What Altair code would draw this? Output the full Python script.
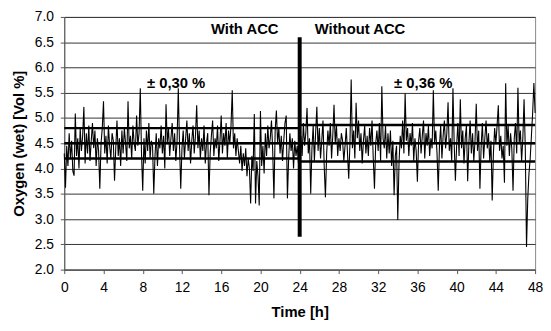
import altair as alt
import pandas as pd

# Oxygen readings, 8 per hour (step 0.125 h), rows = hours 0..47, plus final value at 48 h
hours_rows = [
    [4.30, 3.62, 4.45, 4.05, 4.70, 4.20, 4.55, 3.95],
    [3.86, 5.09, 4.25, 4.60, 4.00, 4.80, 4.35, 4.65],
    [5.22, 4.10, 4.70, 4.30, 4.85, 4.15, 4.55, 4.90],
    [4.40, 4.75, 4.05, 4.60, 4.35, 3.60, 4.50, 4.80],
    [5.33, 4.30, 4.65, 4.10, 4.85, 4.45, 4.20, 4.70],
    [4.55, 3.76, 4.40, 4.95, 4.25, 4.60, 4.05, 4.75],
    [4.30, 4.80, 4.50, 4.15, 5.33, 4.40, 4.65, 4.20],
    [4.85, 4.50, 4.35, 5.05, 4.45, 4.70, 5.59, 4.30],
    [3.56, 4.60, 4.10, 4.75, 4.35, 4.90, 4.20, 4.55],
    [4.45, 3.50, 4.25, 4.70, 4.05, 4.60, 4.40, 4.85],
    [4.30, 4.65, 4.00, 5.27, 4.50, 4.80, 4.25, 4.60],
    [4.90, 4.35, 4.70, 4.15, 4.55, 5.59, 4.45, 3.60],
    [4.40, 4.75, 4.20, 4.60, 4.95, 4.35, 4.70, 4.10],
    [4.55, 4.85, 4.30, 4.65, 5.25, 4.40, 4.75, 4.20],
    [4.60, 4.35, 4.85, 4.10, 4.50, 4.70, 3.47, 4.30],
    [4.65, 4.95, 4.25, 4.60, 4.40, 4.85, 4.15, 4.55],
    [5.05, 4.30, 4.70, 4.45, 4.90, 4.20, 4.75, 4.50],
    [4.85, 5.55, 4.40, 4.70, 4.25, 4.60, 4.35, 4.10],
    [4.45, 3.95, 4.30, 4.05, 4.40, 3.85, 4.20, 4.00],
    [3.31, 4.25, 3.95, 5.08, 3.31, 4.15, 3.85, 3.27],
    [5.14, 4.05, 4.45, 3.90, 4.70, 4.25, 4.85, 4.40],
    [4.60, 4.95, 4.35, 3.41, 4.75, 5.15, 4.50, 4.80],
    [4.30, 4.65, 4.15, 4.55, 4.90, 5.05, 3.41, 4.20],
    [4.70, 4.35, 4.60, 4.00, 4.55, 4.25, 4.45, 4.10],
    [4.00, 4.65, 4.25, 4.90, 4.45, 4.70, 5.20, 4.30],
    [4.60, 3.50, 4.40, 4.85, 4.15, 4.70, 5.22, 4.35],
    [4.80, 4.20, 4.55, 4.95, 4.05, 3.43, 4.30, 4.75],
    [4.45, 4.90, 4.20, 4.65, 5.26, 4.50, 4.85, 4.25],
    [4.60, 4.35, 4.70, 4.55, 4.15, 4.45, 4.80, 4.30],
    [3.80, 4.50, 5.76, 4.40, 4.75, 4.20, 5.30, 4.60],
    [4.95, 4.35, 4.70, 4.10, 4.55, 4.85, 4.30, 4.65],
    [4.25, 4.80, 4.45, 4.95, 4.20, 3.60, 4.50, 4.75],
    [4.35, 4.90, 4.15, 5.63, 4.60, 4.40, 4.85, 4.20],
    [4.70, 4.30, 4.75, 4.05, 4.55, 3.47, 4.25, 4.45],
    [2.98, 4.10, 4.65, 4.40, 4.95, 4.30, 5.49, 4.55],
    [4.80, 4.25, 4.70, 4.45, 4.90, 4.15, 4.60, 4.35],
    [3.74, 4.55, 4.80, 4.30, 4.65, 4.95, 4.20, 4.70],
    [4.45, 4.85, 4.25, 4.60, 4.40, 5.55, 4.50, 4.75],
    [4.30, 3.56, 4.45, 4.85, 4.20, 4.65, 4.95, 4.40],
    [4.70, 5.31, 4.35, 4.60, 4.15, 5.59, 4.50, 3.76],
    [4.45, 4.90, 4.25, 5.37, 4.40, 4.75, 4.10, 4.60],
    [4.85, 3.75, 4.50, 4.95, 4.30, 4.70, 4.15, 4.55],
    [5.28, 4.35, 4.75, 3.60, 4.45, 4.90, 4.20, 4.60],
    [4.95, 4.40, 4.70, 4.15, 4.55, 3.37, 4.30, 4.80],
    [4.50, 4.85, 5.25, 4.35, 4.65, 4.20, 4.45, 3.72],
    [5.69, 4.45, 4.85, 4.25, 4.70, 4.40, 3.56, 4.60],
    [4.90, 4.30, 5.60, 4.50, 4.75, 4.15, 4.60, 5.37],
    [4.40, 2.45, 3.40, 3.90, 4.20, 4.65, 5.10, 5.69],
]
final_value = 5.10

oxygen = [v for row in hours_rows for v in row] + [final_value]
times = [i * 0.125 for i in range(len(oxygen))]
series = pd.DataFrame({"t": times, "o2": oxygen})

# mean and +/- std lines per period
band_start = [0, 0, 0, 24, 24, 24]
band_end = [24, 24, 24, 48, 48, 48]
band_level = [4.20, 4.50, 4.80, 4.14, 4.50, 4.86]
bands = pd.DataFrame({"x": band_start, "x2": band_end, "y": band_level})

divider = pd.DataFrame({"x": [24], "y": [2.65], "y2": [6.6]})

label_text = ["With ACC", "Without ACC", "± 0,30 %", "± 0,36 %"]
label_x = [18.4, 30.15, 11.4, 36.6]
label_y = [6.76, 6.76, 5.69, 5.69]
labels = pd.DataFrame({"text": label_text, "x": label_x, "y": label_y})

y_ticks = [2.0, 2.5, 3.0, 3.5, 4.0, 4.5, 5.0, 5.5, 6.0, 6.5, 7.0]
x_ticks = list(range(0, 49, 4))

xs = alt.Scale(domain=[0, 48], nice=False, zero=False)
ys = alt.Scale(domain=[2, 7], nice=False, zero=False)

x_axis = alt.Axis(values=x_ticks, title="Time [h]", grid=False, format="d",
                  labelOverlap=False, labelFlush=False,
                  labelFontSize=14, labelFont="Liberation Sans", labelColor="black",
                  labelPadding=7, tickSize=4, tickColor="#555", domainColor="#555",
                  titleFont="Liberation Sans", titleFontSize=15, titleFontWeight="bold",
                  titleColor="black", titlePadding=10)
y_axis = alt.Axis(values=y_ticks, format=".1f", title="Oxygen (wet) [Vol %]",
                  labelOverlap=False, labelFlush=False,
                  grid=True, gridColor="#333", gridWidth=1,
                  labelFontSize=14, labelFont="Liberation Sans", labelColor="black",
                  labelPadding=7, tickSize=4, tickColor="#555", domainColor="#555",
                  titleFont="Liberation Sans", titleFontSize=15, titleFontWeight="bold",
                  titleColor="black", titlePadding=8)

line = alt.Chart(series).mark_line(color="black", strokeWidth=1.1).encode(
    x=alt.X("t:Q", scale=xs, axis=x_axis),
    y=alt.Y("o2:Q", scale=ys, axis=y_axis),
)

band_rules = alt.Chart(bands).mark_rule(color="black", strokeWidth=2.5).encode(
    x=alt.X("x:Q", scale=xs, axis=x_axis), x2="x2:Q",
    y=alt.Y("y:Q", scale=ys, axis=y_axis),
)

divider_rule = alt.Chart(divider).mark_rule(color="black", strokeWidth=4).encode(
    x=alt.X("x:Q", scale=xs, axis=x_axis),
    y=alt.Y("y:Q", scale=ys, axis=y_axis), y2="y2:Q",
)

text = alt.Chart(labels).mark_text(
    font="Liberation Sans", fontSize=15, fontWeight="bold", color="black",
    align="center", baseline="middle"
).encode(
    x=alt.X("x:Q", scale=xs, axis=x_axis),
    y=alt.Y("y:Q", scale=ys, axis=y_axis),
    text="text:N",
)

chart = alt.layer(line, band_rules, divider_rule, text).properties(
    width=477, height=256,
    autosize="none",
    padding={"left": 57, "top": 7, "right": 8, "bottom": 50},
).configure_view(stroke="#888", strokeWidth=1)

chart.save("out.html", embed_options={"renderer": "svg", "actions": False})
